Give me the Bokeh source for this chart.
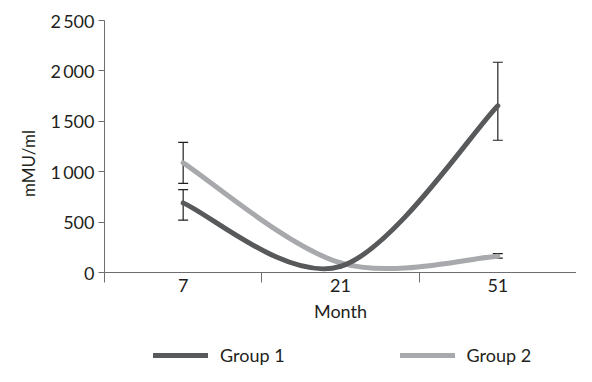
from bokeh.plotting import figure
from bokeh.layouts import column
from bokeh.models import Range1d, FixedTicker, Legend, Whisker, ColumnDataSource, TeeHead
from bokeh.embed import file_html
from bokeh.resources import INLINE

months = ["7", "21", "51"]
group1 = [690, 60, 1654]
group2 = [1088, 95, 162]
err_months = ["7", "51"]
group1_lower = [519, 1312]
group1_upper = [823, 2086]
group2_lower = [885, 142]
group2_upper = [1290, 188]
y_ticks = [0, 500, 1000, 1500, 2000, 2500]
series_names = ["Group 1", "Group 2"]

FONT = "Lato"
TXT = "#231f20"
AX = "#6d6e71"
DARK = "#58595b"
LIGHT = "#a7a9ac"

xs = [i + 0.5 for i in range(len(months))]
pos = dict(zip(months, xs))

p = figure(width=576, height=330, output_backend="svg", toolbar_location=None,
           x_range=Range1d(0, len(months)), y_range=Range1d(0, 2500),
           min_border_left=104, min_border_right=0, min_border_top=20, min_border_bottom=58)
p.outline_line_color = None
p.grid.visible = False

def smooth(vals):
    n = len(vals)
    x0, y0, x1, y1, cx0, cy0, cx1, cy1 = [], [], [], [], [], [], [], []
    for i in range(n - 1):
        pm = i - 1 if i > 0 else i
        pp = i + 2 if i + 2 < n else i + 1
        x0.append(xs[i]); y0.append(vals[i])
        x1.append(xs[i + 1]); y1.append(vals[i + 1])
        cx0.append(xs[i] + (xs[i + 1] - xs[pm]) / 6)
        cy0.append(vals[i] + (vals[i + 1] - vals[pm]) / 6)
        cx1.append(xs[i + 1] - (xs[pp] - xs[i]) / 6)
        cy1.append(vals[i + 1] - (vals[pp] - vals[i]) / 6)
    return ColumnDataSource(dict(x0=x0, y0=y0, x1=x1, y1=y1, cx0=cx0, cy0=cy0, cx1=cx1, cy1=cy1))

p.bezier("x0", "y0", "x1", "y1", "cx0", "cy0", "cx1", "cy1", source=smooth(group2),
         line_color=LIGHT, line_width=5, line_cap="round")
p.bezier("x0", "y0", "x1", "y1", "cx0", "cy0", "cx1", "cy1", source=smooth(group1),
         line_color=DARK, line_width=5, line_cap="round")

for lo, up in [(group1_lower, group1_upper), (group2_lower, group2_upper)]:
    src = ColumnDataSource(dict(x=[pos[m] for m in err_months], lower=lo, upper=up))
    w = Whisker(base="x", lower="lower", upper="upper", source=src, line_color=TXT, line_width=1.2,
                upper_head=TeeHead(size=10, line_color=TXT, line_width=1.2),
                lower_head=TeeHead(size=10, line_color=TXT, line_width=1.2))
    p.add_layout(w)

xa = p.xaxis[0]
xa.ticker = FixedTicker(ticks=xs, minor_ticks=list(range(len(months) + 1)))
xa.major_label_overrides = {x: m for x, m in zip(xs, months)}
xa.major_tick_line_color = None
xa.major_tick_out = 0
xa.minor_tick_in = 0
xa.minor_tick_out = 10
xa.minor_tick_line_color = AX
xa.axis_line_color = AX
xa.major_label_standoff = -4
xa.axis_label = "Month"
xa.axis_label_standoff = 5
xa.axis_label_text_font_style = "normal"

ya = p.yaxis[0]
ya.ticker = FixedTicker(ticks=y_ticks, minor_ticks=[])
ya.major_label_overrides = {t: f"{t:,}".replace(",", "\u2009") for t in y_ticks}
ya.major_tick_in = 0
ya.major_tick_out = 6
ya.major_tick_line_color = AX
ya.minor_tick_line_color = None
ya.axis_line_color = AX
ya.major_label_standoff = 4
ya.axis_label = "mMU/ml\u2003\u2003\u2002"
ya.axis_label_standoff = 8
ya.axis_label_text_font_style = "normal"

for a in (xa, ya):
    a.major_label_text_font = FONT
    a.axis_label_text_font = FONT
    a.major_label_text_font_size = "18px"
    a.major_label_text_color = TXT
    a.axis_label_text_color = TXT
xa.axis_label_text_font_size = "18px"
ya.axis_label_text_font_size = "17px"

# legend strip (its frame is aligned with the main plot's frame by the column layout)
p2 = figure(width=576, height=36, output_backend="svg", toolbar_location=None,
            x_range=Range1d(0, 1), y_range=Range1d(-2, -1),
            min_border_left=104, min_border_right=0, min_border_top=0, min_border_bottom=0)
p2.axis.visible = False
p2.grid.visible = False
p2.outline_line_color = None
items = []
for name, col, vals in zip(series_names, [DARK, LIGHT], [group1, group2]):
    r = p2.line(x=xs, y=vals, line_color=col, line_width=5, line_cap="round")
    items.append((name, [r]))
legend = Legend(items=items, orientation="horizontal", location=(49, 0),
                border_line_color=None, background_fill_alpha=0,
                glyph_width=55, glyph_height=20, label_standoff=12, spacing=115,
                label_text_font=FONT, label_text_font_size="18px", label_text_color=TXT,
                margin=0, padding=0)
p2.add_layout(legend)

open("out.html", "w").write(file_html(column(p, p2, spacing=0), INLINE))
